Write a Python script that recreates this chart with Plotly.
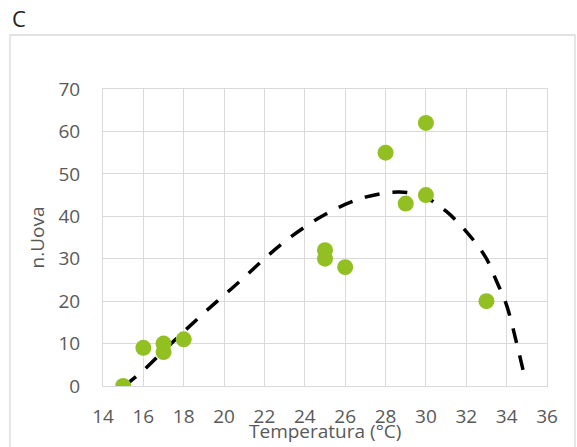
import plotly.graph_objects as go

# observed data
temp = [15, 16, 17, 17, 18, 25, 25, 26, 28, 29, 30, 30, 33]
eggs = [0, 9, 10, 8, 11, 32, 30, 28, 55, 43, 62, 45, 20]

# fitted curve
curve_t = [15.05, 16, 17, 18, 19, 20, 21, 22, 23, 24, 25, 26, 27, 28, 28.7,
           29.5, 30, 30.5, 31, 31.5, 32, 32.5, 33, 33.5, 34, 34.5, 34.85]
curve_y = [0.0, 3.7, 8.3, 12.8, 17.2, 21.4, 25.6, 30.0, 34.0, 37.5, 40.4, 42.8,
           44.5, 45.5, 45.7, 45.3, 44.5, 43.0, 41.2, 39.0, 36.4, 33.5, 30.0,
           24.7, 19.0, 10.0, 3.0]

x_ticks = list(range(14, 37, 2))
y_ticks = list(range(0, 71, 10))

FONT = "Open Sans"
GRAY = "#595959"
GRID = "#D9D9D9"

W, H = 577, 447
L, R, T, B = 103, 30, 89, 61
PW, PH = W - L - R, H - T - B


def px_x(x):
    return (x - L) / PW


def px_y(y):
    return (H - B - y) / PH


fig = go.Figure()
fig.add_trace(go.Scatter(x=curve_t, y=curve_y, mode="lines",
                         line=dict(color="black", width=3.5, dash="15px,13px", shape="spline"),
                         hoverinfo="skip", showlegend=False))
fig.add_trace(go.Scatter(x=temp, y=eggs, mode="markers",
                         marker=dict(color="#92C022", size=16, line=dict(width=0)),
                         showlegend=False))

fig.update_layout(
    width=W, height=H,
    margin=dict(l=L, r=R, t=T, b=B),
    paper_bgcolor="white", plot_bgcolor="white",
    font=dict(family=FONT, color=GRAY, size=19),
    xaxis=dict(range=[14, 36], tickvals=x_ticks, ticktext=[str(v) for v in x_ticks],
               showgrid=True, gridcolor=GRID, gridwidth=1, zeroline=False,
               showline=True, linecolor=GRID, linewidth=1, mirror=True,
               ticks="outside", ticklen=13, tickcolor="rgba(0,0,0,0)",
               tickfont=dict(size=19, color=GRAY, family=FONT)),
    yaxis=dict(range=[0, 70], tickvals=y_ticks, ticktext=[str(v) for v in y_ticks],
               showgrid=True, gridcolor=GRID, gridwidth=1, zeroline=False,
               showline=True, linecolor=GRID, linewidth=1, mirror=True,
               ticks="outside", ticklen=18, tickcolor="rgba(0,0,0,0)",
               tickfont=dict(size=19, color=GRAY, family=FONT)),
    shapes=[dict(type="rect", xref="paper", yref="paper",
                 x0=px_x(10), x1=px_x(575), y0=px_y(460), y1=px_y(35),
                 line=dict(color=GRID, width=1.3), layer="below")],
    annotations=[
        dict(text="C", xref="paper", yref="paper", x=px_x(10), y=px_y(18),
             xanchor="left", yanchor="middle", showarrow=False,
             font=dict(size=22, color="#222222", family=FONT)),
        dict(text="Temperatura (°C)", xref="paper", yref="paper", x=0.5, y=px_y(431),
             xanchor="center", yanchor="middle", showarrow=False,
             font=dict(size=19, color=GRAY, family=FONT)),
        dict(text="n.Uova", xref="paper", yref="paper", x=px_x(36), y=0.5,
             xanchor="center", yanchor="middle", showarrow=False, textangle=-90,
             font=dict(size=19, color=GRAY, family=FONT)),
    ],
)

fig.write_html("out.html",
               config={"displayModeBar": False, "staticPlot": True},
               post_script="document.body.style.margin='0';"
                           "document.body.style.overflow='hidden';"
                           "document.documentElement.style.overflow='hidden';")
